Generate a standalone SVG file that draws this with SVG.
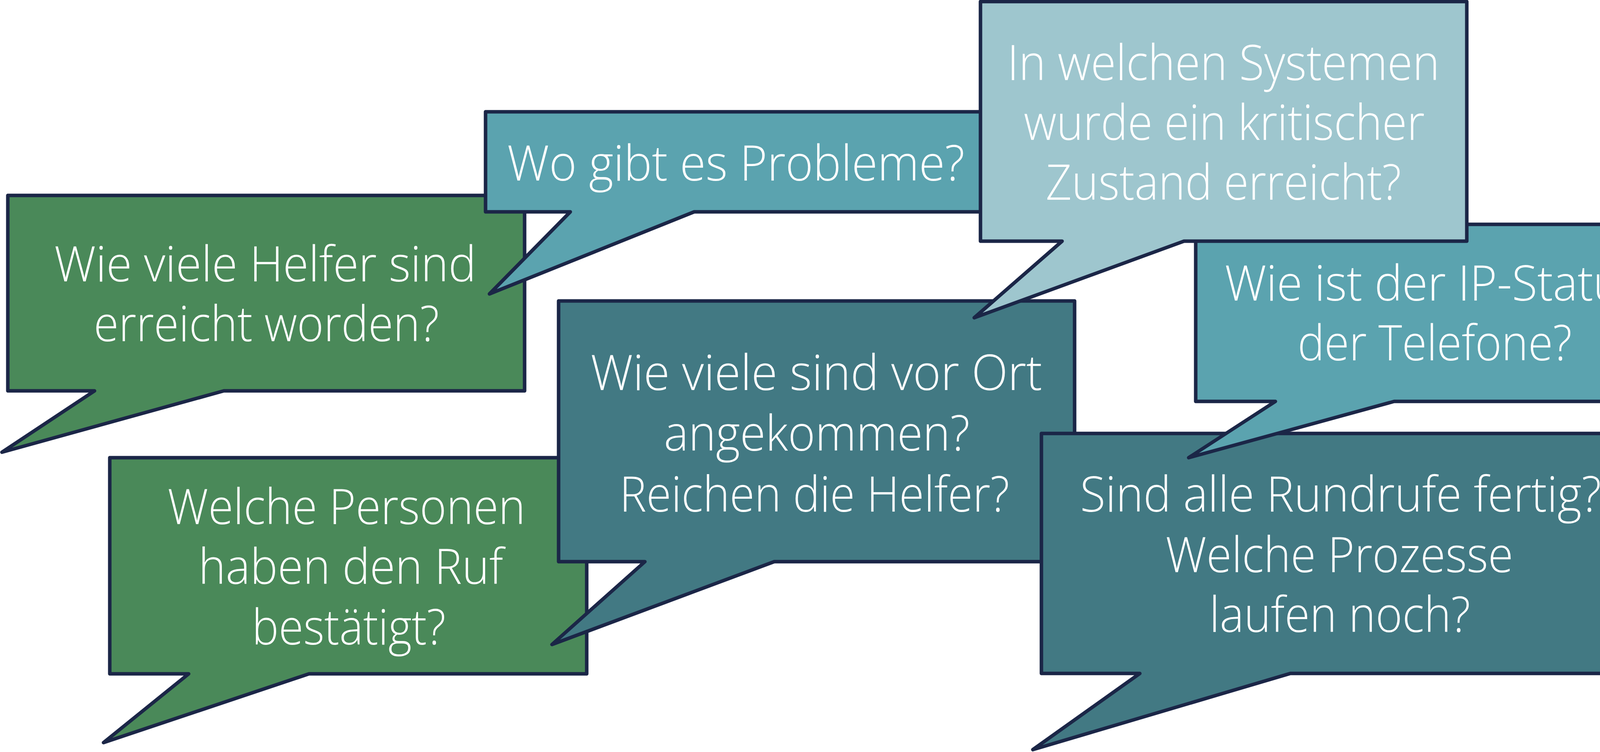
<svg xmlns="http://www.w3.org/2000/svg" width="4322" height="1924" viewBox="0 0 4322 1924">
<style>
.b{stroke:#1B2647;stroke-width:9;stroke-linejoin:round}
.g{fill:#4A8959}
.m{fill:#5BA3AF}
.l{fill:#9EC6CE}
.d{fill:#427983}
text{font-family:"Open Sans","Lato","Noto Sans",sans-serif;font-weight:300;font-size:125px;fill:#FFFFFF;text-anchor:middle}
</style>
<rect width="4322" height="1924" fill="#FFFFFF"/>
<g id="n-helfer">
<path class="b g" d="M20,500 H1343 V1000 H573 L5,1157 L242,1000 H20 Z"/>
<text x="679" y="720" textLength="1080" lengthAdjust="spacingAndGlyphs">Wie viele Helfer sind</text>
<text x="682" y="873" textLength="884" lengthAdjust="spacingAndGlyphs">erreicht worden?</text>
</g>
<g id="n-probleme">
<path class="b m" d="M1243,286 H2525 V542 H1777 L1253,752 L1460,542 H1243 Z"/>
<text x="1884" y="462" textLength="1171" lengthAdjust="spacingAndGlyphs">Wo gibt es Probleme?</text>
</g>
<g id="n-personen">
<path class="b g" d="M281,1171 H1502 V1724 H791 L265,1900 L483,1724 H281 Z"/>
<text x="887" y="1341" textLength="916" lengthAdjust="spacingAndGlyphs">Welche Personen</text>
<text x="898" y="1494" textLength="780" lengthAdjust="spacingAndGlyphs">haben den Ruf</text>
<text x="893" y="1649" textLength="496" lengthAdjust="spacingAndGlyphs">bestätigt?</text>
</g>
<g id="n-vorort">
<path class="b d" d="M1430,770 H2751 V1437 H1982 L1413,1649 L1651,1437 H1430 Z"/>
<text x="2090" y="998" textLength="1156" lengthAdjust="spacingAndGlyphs">Wie viele sind vor Ort</text>
<text x="2091" y="1153" textLength="783" lengthAdjust="spacingAndGlyphs">angekommen?</text>
<text x="2085" y="1309" textLength="998" lengthAdjust="spacingAndGlyphs">Reichen die Helfer?</text>
</g>
<g id="n-rundrufe">
<path class="b d" d="M2666,1109 H4196 V1723 H3303 L2644,1918 L2918,1723 H2666 Z"/>
<text x="3432" y="1309" textLength="1334" lengthAdjust="spacingAndGlyphs">Sind alle Rundrufe fertig?</text>
<text x="3429" y="1464" textLength="890" lengthAdjust="spacingAndGlyphs">Welche Prozesse</text>
<text x="3430" y="1617" textLength="668" lengthAdjust="spacingAndGlyphs">laufen noch?</text>
</g>
<g id="n-ipstatus">
<path class="b m" d="M3061,574 H4280 V1027 H3569 L3043,1171 L3265,1027 H3061 Z"/>
<text x="3670" y="769" textLength="1069" lengthAdjust="spacingAndGlyphs">Wie ist der IP-Status</text>
<text x="3673" y="922" textLength="702" lengthAdjust="spacingAndGlyphs">der Telefone?</text>
</g>
<g id="n-systeme">
<path class="b l" d="M2510,4 H3755 V617 H3031 L2494,813 L2719,617 H2510 Z"/>
<text x="3132" y="205" textLength="1107" lengthAdjust="spacingAndGlyphs">In welchen Systemen</text>
<text x="3134" y="358" textLength="1026" lengthAdjust="spacingAndGlyphs">wurde ein kritischer</text>
<text x="3132" y="511" textLength="910" lengthAdjust="spacingAndGlyphs">Zustand erreicht?</text>
</g>
<g id="connectors"></g>
</svg>
